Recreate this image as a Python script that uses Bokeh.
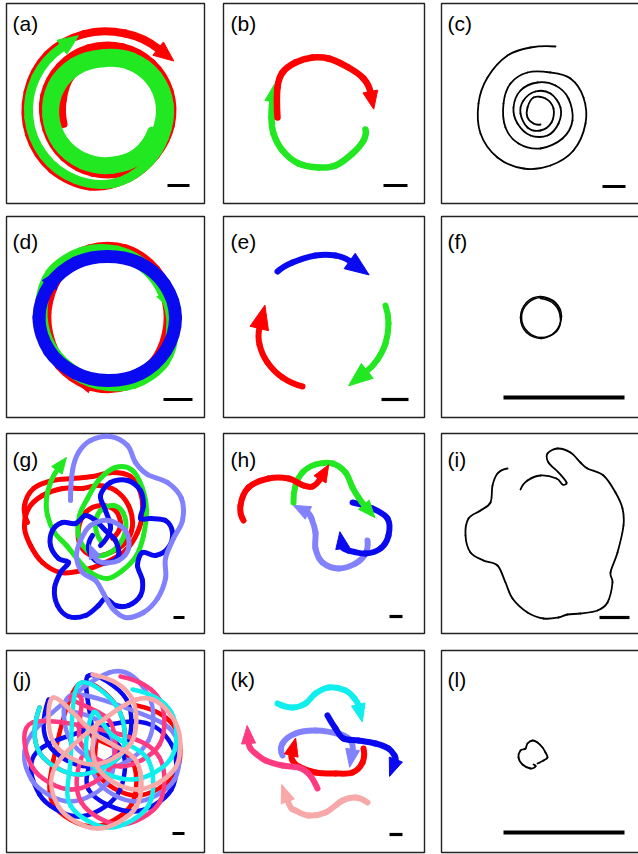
import numpy as np
from bokeh.plotting import figure
from bokeh.models import Range1d
from bokeh.embed import file_html
from bokeh.resources import INLINE
from bokeh.core.properties import value

# ---------------------------------------------------------------- colours
RED = "#ff0000"
GREEN = "#22e822"
BLUE = "#0a0af0"
LBLUE = "#8282ff"
CYAN = "#10eeee"
PINK = "#ff3a80"
LPINK = "#f7a8a8"

# ---------------------------------------------------------------- panel grid (page pixels)
panel_labels = ["(a)", "(b)", "(c)", "(d)", "(e)", "(f)",
                "(g)", "(h)", "(i)", "(j)", "(k)", "(l)"]
col_left = [6, 223, 441]
col_right = [204, 424, 646]
row_top = [3, 216, 433, 650]
row_bottom = [203, 417, 633, 852]
label_x = [12, 230, 447]
label_base = [23, 241, 459, 679]

# scale bars
bar_x0 = [167, 383, 602, 163, 381, 503, 173, 389, 599, 172, 389, 503]
bar_x1 = [189, 407, 625, 192, 408, 624, 184, 402, 629, 184, 402, 624]
bar_y = [185, 185, 186, 399, 399, 397, 617, 616, 617, 833, 834, 832]

# ---------------------------------------------------------------- (a) two spirals, polar about (107,110)
a_center = (107, 110)
a_red_ang = [197, 167, 137, 107, 77, 47, 17, -13, -43, -73, -103, -133, -163,
             -193, -223, -253, -283, -313, -343, -373, -403, -433, -463, -493, -523,
             -553, -583, -613, -643, -673, -703, -733,
             -763, -793, -823, -853, -883, -913, -943, -973, -1003, -1030]
a_red_rad = [46, 46, 50, 52, 54, 55, 56, 57, 58, 58, 59, 60, 60,
             61, 62, 62, 62, 63, 63, 63, 64, 64, 64, 64, 64,
             65, 65, 65, 65, 65, 65, 65,
             66, 71, 78, 81, 82, 82, 82, 80, 79, 80]
a_green_ang = [335, 305, 275, 245, 215, 185, 155, 125, 95, 65, 35, 5,
               -25, -55, -85, -115, -145, -175, -205, -235, -265, -295, -325, -355,
               -385, -415, -445, -475, -505, -535, -565, -595, -625, -655, -685, -715,
               -745, -775, -805, -835, -865, -895, -925, -955, -985, -1015, -1045, -1075,
               -1105, -1135, -1165, -1195, -1225, -1255, -1285, -1315]
a_green_rad = [49, 51, 51, 52, 53, 53, 52, 50, 48, 50, 52, 53,
               53, 54, 54, 55, 56, 56, 55, 53, 51, 53, 55, 56,
               56, 56, 56, 57, 58, 58, 58, 56, 54, 56, 58, 59,
               59, 59, 59, 60, 61, 61, 61, 59, 57, 59, 61, 62,
               63, 67, 73, 76, 78, 79, 79, 78]

# ---------------------------------------------------------------- (b)
b_red_x = [277, 277, 282, 295, 312, 328, 348, 363, 370]
b_red_y = [117, 87, 72, 62, 57, 58, 67, 78, 92]
b_green_x = [365, 363, 352, 335, 318, 298, 282, 273, 271, 272]
b_green_y = [129, 140, 153, 165, 167, 163, 150, 133, 117, 100]

# ---------------------------------------------------------------- (c) spiral
c_x = [555, 530, 507, 487, 478, 480, 497, 523, 550, 573, 585, 583, 570, 550, 527,
       510, 503, 505, 518, 540, 562, 572, 568, 555, 537, 520, 513, 517, 530, 547,
       558, 560, 550, 535, 523, 520, 527, 540, 551, 553, 545, 533, 527, 527, 533, 540]
c_y = [46, 47, 55, 77, 103, 133, 157, 168, 165, 150, 123, 97, 78, 72, 72,
       83, 103, 127, 143, 148, 138, 120, 98, 85, 82, 90, 107, 123, 135, 135,
       123, 107, 93, 91, 100, 113, 127, 130, 122, 108, 98, 97, 107, 117, 123, 124]

# ---------------------------------------------------------------- (d) three loops, polar about (107,317)
d_center = (107, 317)
d_red_ang = [615, 585, 555, 525, 495, 465, 435, 405, 375, 345, 315, 285, 255]
d_red_rad = [69, 66, 63, 63, 66, 69, 69, 66, 63, 63, 66, 69, 69]
d_green_ang = [382, 352, 322, 292, 262, 232, 202, 172, 142, 112, 82, 52, 22]
d_green_rad = [63, 66, 71, 70, 66, 64, 65, 67, 71, 69, 66, 63, 62]
d_blue_ang = [510, 480, 450, 420, 390, 360, 330, 300, 270, 240, 210, 180, 150]
d_blue_rad = [66.5, 63, 61, 63, 66, 68, 67, 65, 63, 64, 67, 68.5, 66.5]

# ---------------------------------------------------------------- (e)
e_blue_x = [277, 292, 315, 335, 350]
e_blue_y = [271, 262, 255, 255, 261]
e_green_x = [385, 388, 385, 377, 366]
e_green_y = [305, 323, 343, 359, 371]
e_red_x = [302, 282, 267, 259, 259]
e_red_y = [386, 377, 362, 344, 327]

# ---------------------------------------------------------------- (f)
f_x = [560, 555, 541, 527, 521, 527, 541, 555, 561, 555, 540, 526, 520, 526, 541, 556, 560, 554, 540]
f_y = [317, 303, 297, 303, 317, 331, 337, 331, 316, 302, 296, 302, 317, 332, 338, 331, 318, 304, 298]

# ---------------------------------------------------------------- (g)
g_red_x = [27, 24, 33, 52, 72, 92, 112, 130, 140, 142, 137, 125, 105, 82, 60, 42, 30, 24,
           28, 42, 62, 82, 98, 115, 128, 132, 125, 110, 92, 80, 78, 85, 100, 115, 120, 112]
g_red_y = [522, 505, 488, 480, 478, 476, 472, 476, 492, 512, 532, 550, 562, 570, 572, 562, 545, 527,
           508, 495, 488, 488, 485, 490, 505, 525, 542, 552, 555, 545, 528, 512, 505, 510, 525, 538]
g_green_x = [100, 95, 100, 113, 123, 125, 117, 102, 87, 78, 79, 87, 98, 115, 132, 142, 146, 143,
             136, 122, 107, 90, 78, 66, 54, 47, 46, 50, 57]
g_green_y = [540, 525, 510, 505, 513, 530, 546, 555, 550, 535, 515, 498, 480, 467, 470, 488, 510, 535,
             555, 570, 578, 572, 560, 545, 532, 515, 498, 482, 469]
g_blue_x = [100, 110, 105, 100, 110, 127, 140, 143, 140, 150, 165, 172, 168, 155, 142, 137, 142, 140,
            128, 115, 105, 98, 85, 68, 57, 54, 60, 68, 58, 50, 52, 62, 75, 85, 95, 105, 115, 118,
            108, 95, 88, 92]
g_blue_y = [545, 528, 510, 495, 482, 480, 490, 505, 518, 518, 520, 532, 547, 555, 552, 565, 580, 595,
            605, 605, 598, 605, 615, 616, 605, 588, 572, 562, 558, 545, 530, 522, 523, 515, 520, 530,
            540, 555, 562, 560, 548, 535]
g_lb_x = [70, 72, 78, 90, 110, 127, 135, 147, 167, 181, 182, 173, 165, 165, 157, 143, 125, 112,
          103, 95, 82, 76, 80, 90, 108, 125, 128, 118, 102, 94]
g_lb_y = [500, 470, 452, 440, 436, 445, 462, 474, 482, 498, 520, 538, 558, 578, 598, 612, 617, 608,
          593, 580, 572, 556, 540, 525, 520, 530, 548, 560, 562, 556]

# ---------------------------------------------------------------- (h)
h_red_x = [243, 240, 248, 268, 288, 303, 312, 320]
h_red_y = [520, 505, 487, 478, 478, 485, 486, 478]
h_green_x = [293, 295, 302, 315, 332, 345, 352, 358, 364]
h_green_y = [502, 485, 472, 464, 463, 472, 487, 497, 505]
h_blue_x = [352, 372, 387, 388, 380, 365, 348, 342]
h_blue_y = [502, 508, 518, 535, 548, 553, 550, 547]
h_lb_x = [367, 365, 355, 338, 322, 315, 315, 311, 307]
h_lb_y = [540, 553, 563, 568, 562, 548, 532, 518, 512]

# ---------------------------------------------------------------- (i)
i_x = [507, 497, 492, 490, 480, 468, 465, 470, 483, 497, 505, 512, 527, 543, 558, 567, 580, 597,
       607, 612, 610, 617, 623, 622, 615, 603, 587, 580, 570, 557, 547, 548, 558, 566, 562, 556,
       540, 527, 520]
i_y = [468, 473, 485, 502, 510, 518, 535, 552, 560, 565, 582, 598, 612, 618, 617, 614, 613, 610,
       602, 582, 572, 552, 525, 508, 492, 475, 468, 462, 452, 448, 453, 462, 472, 482, 484, 478,
       475, 480, 489]

# ---------------------------------------------------------------- (j) looping trajectories
j_red_x = [136, 175, 175, 136, 97, 97, 92, 131, 131, 92, 53, 53, 78, 117, 121, 78, 39, 39]
j_red_y = [705, 728, 773, 795, 773, 728, 736, 759, 804, 826, 804, 759, 684, 707, 753, 774, 752, 707]
j_blue_x = [78, 121, 117, 78, 39, 39, 132, 171, 171, 132, 88, 93, 87, 126, 126, 87, 48, 48]
j_blue_y = [726, 749, 794, 816, 794, 749, 721, 744, 789, 811, 789, 741, 676, 699, 744, 766, 744, 699]
j_lb_x = [70, 109, 109, 70, 31, 31, 109, 148, 148, 111, 70, 70, 135, 174, 174, 135, 96, 96]
j_lb_y = [711, 732, 779, 801, 779, 734, 672, 695, 740, 766, 740, 695, 711, 734, 779, 801, 779, 733]
j_pink_x = [120, 159, 159, 120, 81, 81, 71, 110, 110, 71, 32, 32, 120, 159, 159, 120, 81, 81]
j_pink_y = [676, 699, 744, 766, 744, 699, 699, 722, 767, 789, 767, 722, 734, 757, 802, 824, 802, 757]
j_cyan_x = [132, 171, 171, 132, 88, 93, 111, 148, 148, 109, 70, 70, 78, 117, 121, 78, 39, 39]
j_cyan_y = [689, 712, 757, 779, 760, 712, 734, 760, 805, 827, 805, 760, 684, 707, 753, 774, 752, 707]
j_lpink_x = [92, 131, 131, 92, 53, 53, 95, 136, 136, 97, 58, 58, 136, 175, 175, 136, 97, 97]
j_lpink_y = [674, 697, 742, 764, 742, 697, 734, 761, 806, 828, 806, 761, 699, 722, 767, 789, 767, 722]

# ---------------------------------------------------------------- (k)
k_cyan_x = [277, 292, 305, 315, 328, 345, 354, 358]
k_cyan_y = [703, 707, 703, 693, 687, 690, 698, 705]
k_blue_x = [327, 335, 343, 358, 375, 388, 394, 395]
k_blue_y = [715, 728, 738, 740, 743, 748, 755, 760]
k_lb_x = [282, 282, 295, 315, 340, 350, 352]
k_lb_y = [755, 743, 733, 730, 734, 740, 750]
k_red_x = [363, 362, 352, 335, 315, 298, 292, 291]
k_red_y = [748, 762, 772, 773, 772, 766, 760, 754]
k_pink_x = [317, 308, 298, 282, 265, 255, 250, 248]
k_pink_y = [788, 773, 767, 765, 760, 753, 748, 742]
k_lpink_x = [367, 355, 342, 325, 308, 295, 291, 287]
k_lpink_y = [802, 797, 800, 812, 815, 810, 808, 800]

# ---------------------------------------------------------------- (l)
l_x = [537, 543, 547, 545, 542, 537, 532, 527, 525, 520, 518, 522, 530, 535, 533]
l_y = [763, 760, 757, 752, 747, 742, 740, 743, 748, 750, 757, 764, 768, 766, 764]

# ================================================================ drawing
W, H = 638, 854
p = figure(width=W, height=H, x_range=Range1d(0, W), y_range=Range1d(H, 0),
           output_backend="svg", toolbar_location=None, min_border=0,
           x_axis_location=None, y_axis_location=None)
p.xgrid.visible = False
p.ygrid.visible = False
p.outline_line_color = None
p.background_fill_color = "white"
p.border_fill_color = "white"


def polar(center, ang, rad):
    t = np.radians(np.asarray(ang, float))
    r = np.asarray(rad, float)
    return center[0] + r * np.cos(t), center[1] - r * np.sin(t)


def curve(xs, ys, color, width):
    """Smooth path through the knots (Catmull-Rom drawn as cubic Beziers)."""
    P = np.column_stack([xs, ys]).astype(float)
    first = 3 * P[0] - 3 * P[1] + P[2]
    last = 3 * P[-1] - 3 * P[-2] + P[-3]
    ext = np.vstack([first, P, last])
    p0, p1, p2, p3 = ext[:-3], ext[1:-2], ext[2:-1], ext[3:]
    c0 = p1 + (p2 - p0) / 6.0
    c1 = p2 - (p3 - p1) / 6.0
    p.bezier(x0=p1[:, 0], y0=p1[:, 1], x1=p2[:, 0], y1=p2[:, 1],
             cx0=c0[:, 0], cy0=c0[:, 1], cx1=c1[:, 0], cy1=c1[:, 1],
             line_color=color, line_width=width, line_cap="round", line_join="round")
    d = last - P[-2]
    return P[-1], d / np.hypot(d[0], d[1])


def arrow_path(xs, ys, color, width, length, head):
    end, u = curve(xs, ys, color, width)
    n = np.array([-u[1], u[0]])
    base = end - u * 1.0
    tip = base + u * length
    a = base + n * head / 2
    b = base - n * head / 2
    p.patch([a[0], tip[0], b[0]], [a[1], tip[1], b[1]],
            fill_color=color, line_color=color, line_width=1)


# frames
lefts, rights, tops, bottoms = [], [], [], []
for r in range(4):
    for c in range(3):
        lefts.append(col_left[c]); rights.append(col_right[c])
        tops.append(row_top[r]); bottoms.append(row_bottom[r])
p.quad(left=lefts, right=rights, top=tops, bottom=bottoms,
       fill_color=None, line_color="#222222", line_width=1.4)

# (a)
x, y = polar(a_center, a_red_ang, a_red_rad)
arrow_path(x, y, RED, 8, 20, 17)
x, y = polar(a_center, a_green_ang, a_green_rad)
arrow_path(x, y, GREEN, 9, 20, 17)

# (b)
arrow_path(b_green_x, b_green_y, GREEN, 6.5, 18, 15)
arrow_path(b_red_x, b_red_y, RED, 6.5, 18, 15)

# (c)
curve(c_x, c_y, "black", 1.8)

# (d)
x, y = polar(d_center, d_red_ang, d_red_rad)
arrow_path(x, y, RED, 13, 18, 17)
x, y = polar(d_center, d_green_ang, d_green_rad)
arrow_path(x, y, GREEN, 13, 18, 17)
x, y = polar(d_center, d_blue_ang, d_blue_rad)
arrow_path(x, y, BLUE, 13, 18, 17)

# (e)
arrow_path(e_blue_x, e_blue_y, BLUE, 6, 24, 19)
arrow_path(e_green_x, e_green_y, GREEN, 6, 24, 19)
arrow_path(e_red_x, e_red_y, RED, 6, 24, 19)

# (f)
curve(f_x, f_y, "black", 1.5)

# (g)
curve(g_red_x, g_red_y, RED, 5)
arrow_path(g_green_x, g_green_y, GREEN, 5, 16, 13)
curve(g_blue_x, g_blue_y, BLUE, 5)
arrow_path(g_lb_x, g_lb_y, LBLUE, 5, 14, 12)

# (h)
arrow_path(h_lb_x, h_lb_y, LBLUE, 6, 17, 14)
arrow_path(h_blue_x, h_blue_y, BLUE, 6, 17, 14)
arrow_path(h_green_x, h_green_y, GREEN, 6, 17, 14)
arrow_path(h_red_x, h_red_y, RED, 6, 17, 14)

# (i)
curve(i_x, i_y, "black", 1.8)

# (j)
curve(j_red_x, j_red_y, RED, 4.5)
curve(j_blue_x, j_blue_y, BLUE, 4.5)
curve(j_lb_x, j_lb_y, LBLUE, 4.5)
curve(j_pink_x, j_pink_y, PINK, 4.5)
curve(j_cyan_x, j_cyan_y, CYAN, 4.5)
curve(j_lpink_x, j_lpink_y, LPINK, 4.5)

# (k)
arrow_path(k_cyan_x, k_cyan_y, CYAN, 6, 18, 14)
arrow_path(k_lb_x, k_lb_y, LBLUE, 6, 18, 14)
arrow_path(k_red_x, k_red_y, RED, 6, 18, 14)
arrow_path(k_blue_x, k_blue_y, BLUE, 6, 18, 14)
arrow_path(k_pink_x, k_pink_y, PINK, 6, 18, 14)
arrow_path(k_lpink_x, k_lpink_y, LPINK, 6, 18, 14)

# (l)
curve(l_x, l_y, "black", 1.8)

# scale bars (the two long ones are a touch heavier)
short = [i for i in range(12) if i not in (5, 11)]
long_ = [5, 11]
p.segment(x0=[bar_x0[i] for i in short], y0=[bar_y[i] for i in short],
          x1=[bar_x1[i] for i in short], y1=[bar_y[i] for i in short],
          line_color="black", line_width=3.2)
p.segment(x0=[bar_x0[i] for i in long_], y0=[bar_y[i] for i in long_],
          x1=[bar_x1[i] for i in long_], y1=[bar_y[i] for i in long_],
          line_color="black", line_width=4)

# panel letters
lx, ly = [], []
for r in range(4):
    for c in range(3):
        lx.append(label_x[c]); ly.append(label_base[r])
p.text(x=lx, y=ly, text=panel_labels, text_font=value("Liberation Sans"),
       text_font_size="21px", text_color="black",
       text_baseline="alphabetic", text_align="left")

open("out.html", "w").write(file_html(p, INLINE))
